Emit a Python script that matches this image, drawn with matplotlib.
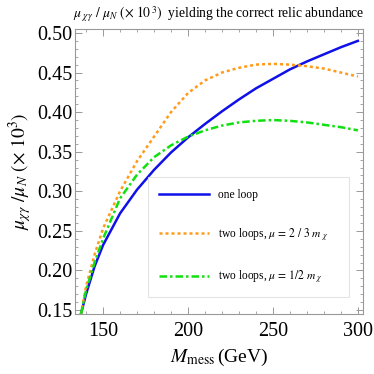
import matplotlib
matplotlib.use("Agg")
import matplotlib.pyplot as plt
from matplotlib.ticker import MultipleLocator

plt.rcParams["font.family"] = ["Liberation Serif", "DejaVu Serif"]
plt.rcParams["mathtext.fontset"] = "stix"

# values
m_mess = [137, 140, 145, 150, 160, 170, 180, 190, 200, 210, 220,
          230, 240, 250, 260, 270, 280, 290, 300]
one_loop = [0.145, 0.170, 0.205, 0.232, 0.272, 0.302, 0.327, 0.349, 0.368,
            0.385, 0.401, 0.416, 0.430, 0.442, 0.454, 0.464, 0.473, 0.482, 0.490]
two_loop_23 = [0.145, 0.180, 0.220, 0.253, 0.300, 0.338, 0.369, 0.400, 0.424,
               0.440, 0.450, 0.456, 0.460, 0.461, 0.460, 0.458, 0.455, 0.450, 0.445]
two_loop_12 = [0.145, 0.175, 0.210, 0.240, 0.291, 0.321, 0.343, 0.358, 0.369,
               0.377, 0.383, 0.387, 0.389, 0.390, 0.389, 0.387, 0.384, 0.381, 0.377]

fig = plt.figure(figsize=(3.74, 3.74), dpi=100)
ax = fig.add_axes([75 / 374, 60 / 374, 288 / 374, 285 / 374])

ax.plot(m_mess, one_loop, color="#1010e8", lw=1.8, label="one loop")
ax.plot(m_mess, two_loop_23, color="#ff9a1a", lw=1.8, ls=(0, (1.2, 1.2)),
        label=r"two loops, $\mu\,=\,2\ /\ 3\ m_{\ \chi}$")
ax.plot(m_mess, two_loop_12, color="#10e010", lw=1.8, ls=(0, (3, 1.2, 1, 1.2)),
        label=r"two loops, $\mu\,=\,1/2\ m_{\ \chi}$")

ax.set_xlim(133.5, 303)
ax.set_ylim(0.145, 0.505)
ax.xaxis.set_major_locator(MultipleLocator(50))
ax.xaxis.set_minor_locator(MultipleLocator(10))
ax.yaxis.set_major_locator(MultipleLocator(0.05))
ax.yaxis.set_minor_locator(MultipleLocator(0.01))
ax.yaxis.set_major_formatter(plt.FuncFormatter(lambda v, p: f"{v:.2f}"))
ax.tick_params(which="both", direction="in", top=True, right=True,
               color="#999999", labelsize=14.5)
ax.tick_params(axis="x", pad=6)
ax.tick_params(axis="y", pad=2)
ax.tick_params(which="major", length=5, width=0.7)
ax.tick_params(which="minor", length=2.5, width=0.6)
for sp in ax.spines.values():
    sp.set_color("#999999")
    sp.set_linewidth(0.8)

ax.set_xlabel(r"$M_{\rm mess}\,$(GeV)", fontsize=14, labelpad=4)
ax.set_ylabel(r"$\mu_{\chi\gamma}\ /\mu_N\ (\times\ 10^3)$", fontsize=14, labelpad=2)
fig.text(0.585, 0.962,
         r"$\mu_{\ \chi\gamma}\ /\ \mu_N\ (\times\ 10^{\,3})$  yielding the correct relic abundance",
         ha="center", va="center", fontsize=9.8)

leg = ax.legend(loc="lower left", bbox_to_anchor=(0.253, 0.06, 0.70, 0.386),
                mode="expand", fontsize=8.3, handlelength=4.3, labelspacing=2.2,
                borderpad=1.0, handletextpad=0.8, borderaxespad=0, fancybox=False)
leg.get_frame().set_edgecolor("#dddddd")
leg.get_frame().set_linewidth(0.8)

fig.savefig("out.png", dpi=100)
